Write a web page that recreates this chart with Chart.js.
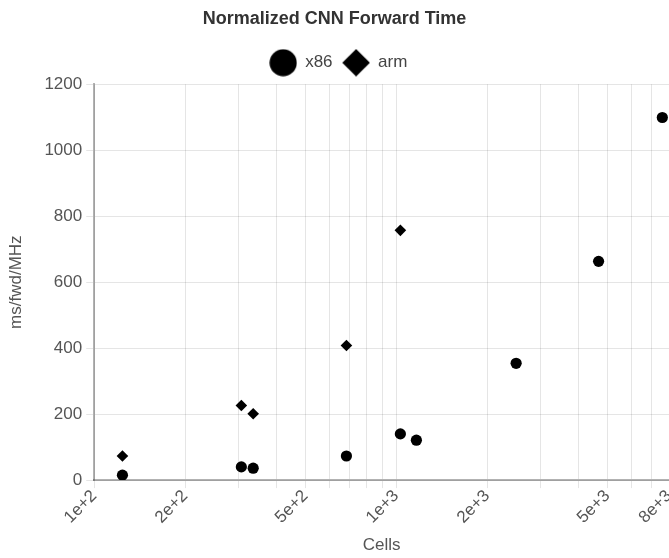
<!DOCTYPE html>
<html><head><meta charset="utf-8">
<script src="https://cdn.jsdelivr.net/npm/chart.js@4/dist/chart.umd.min.js"></script>
<style>html,body{margin:0;padding:0;background:#fff;overflow:hidden}#wrap{width:669px;height:558px;position:relative}</style>
</head><body><div id="wrap"><canvas id="c"></canvas></div>
<script>
const seriesNames = ['x86', 'arm'];
const x86Cells = [124, 307, 336, 684, 1032, 1166, 2494, 4677, 7603];
const x86Times = [15, 40, 36, 73, 140, 121, 354, 663, 1099];
const armCells = [124, 307, 336, 684, 1032];
const armTimes = [73, 226, 201, 408, 757];
const xTickValues = [100,200,300,400,500,600,700,800,900,1000,2000,3000,4000,5000,6000,7000,8000];
const xLabelledTicks = [100,200,500,1000,2000,5000,8000];
const yTickValues = [0,200,400,600,800,1000,1200];

const FONT = "'Liberation Sans', Arial, Helvetica, sans-serif";

function makeIcon(kind){
  const c = document.createElement('canvas');
  c.width = 28; c.height = 28;
  const g = c.getContext('2d');
  g.fillStyle = '#000';
  g.beginPath();
  if (kind === 'circle') { g.arc(14, 14, 13.6, 0, Math.PI * 2); }
  else { g.moveTo(14, 0.2); g.lineTo(27.8, 14); g.lineTo(14, 27.8); g.lineTo(0.2, 14); g.closePath(); }
  g.fill();
  return c;
}
const legendIcons = [makeIcon('circle'), makeIcon('diamond')];

const legendTweak = {
  id: 'legendTweak',
  beforeLayout(chart) {
    const lg = chart.legend;
    if (lg && !lg._patched) {
      lg._patched = true;
      const origFit = lg.fit;
      lg.fit = function(){ origFit.call(this); this.height += 3; };
    }
  },
  afterLayout(chart) {
    const lg = chart.legend;
    if (lg) { lg.left += 4; lg.right += 4; }
  }
};

const toPts = (xs, ys) => xs.map((x, i) => ({x: x, y: ys[i]}));

new Chart(document.getElementById('c'), {
  type: 'scatter',
  data: {
    datasets: [
      { label: seriesNames[0], data: toPts(x86Cells, x86Times), pointStyle: 'circle', pointRadius: 5.6, pointHoverRadius: 5.6,
        backgroundColor: '#000', borderColor: '#000', borderWidth: 0 },
      { label: seriesNames[1], data: toPts(armCells, armTimes), pointStyle: 'rectRot', pointRadius: 5.8, pointHoverRadius: 5.8,
        backgroundColor: '#000', borderColor: '#000', borderWidth: 0 }
    ]
  },
  options: {
    responsive: true,
    maintainAspectRatio: false,
    animation: false,
    events: [],
    layout: { padding: 0, autoPadding: false },
    plugins: {
      title: { display: true, text: 'Normalized CNN Forward Time', color: '#333',
        font: { family: FONT, size: 18, weight: 'bold' }, padding: { top: 8, bottom: 14.6 } },
      legend: {
        display: true,
        labels: {
          usePointStyle: true,
          pointStyleWidth: 27,
          padding: 10,
          color: '#444',
          font: { family: FONT, size: 17 },
          generateLabels(chart) {
            const items = Chart.defaults.plugins.legend.labels.generateLabels(chart);
            items.forEach((it, i) => { it.pointStyle = legendIcons[i]; });
            return items;
          }
        }
      },
      tooltip: { enabled: false }
    },
    scales: {
      x: {
        type: 'logarithmic',
        min: 100, max: 8000,
        afterBuildTicks(scale) { scale.ticks = xTickValues.map(v => ({ value: v })); },
        afterFit(scale) { scale.paddingRight = 0; },
        ticks: {
          autoSkip: false, minRotation: 45, maxRotation: 45, color: '#555', padding: -2,
          font: { family: FONT, size: 17 },
          callback(v) { return xLabelledTicks.includes(v) ? Number(v).toExponential() : ''; }
        },
        grid: { color: 'rgba(0,0,0,0.1)', tickLength: 8 },
        border: { color: 'rgba(0,0,0,0.3)', width: 2 },
        title: { display: true, text: 'Cells', color: '#555', font: { family: FONT, size: 17 }, padding: { top: 10, bottom: 2 } }
      },
      y: {
        min: 0, max: 1200,
        afterBuildTicks(scale) { scale.ticks = yTickValues.map(v => ({ value: v })); },
        ticks: { color: '#555', font: { family: FONT, size: 17 }, padding: 4, callback(v) { return String(v); } },
        grid: { color: 'rgba(0,0,0,0.1)', tickLength: 8 },
        border: { color: 'rgba(0,0,0,0.3)', width: 2 },
        title: { display: true, text: 'ms/fwd/MHz', color: '#555', font: { family: FONT, size: 17 }, padding: { top: 6, bottom: 14 } }
      }
    }
  },
  plugins: [legendTweak]
});
</script>
</body></html>
